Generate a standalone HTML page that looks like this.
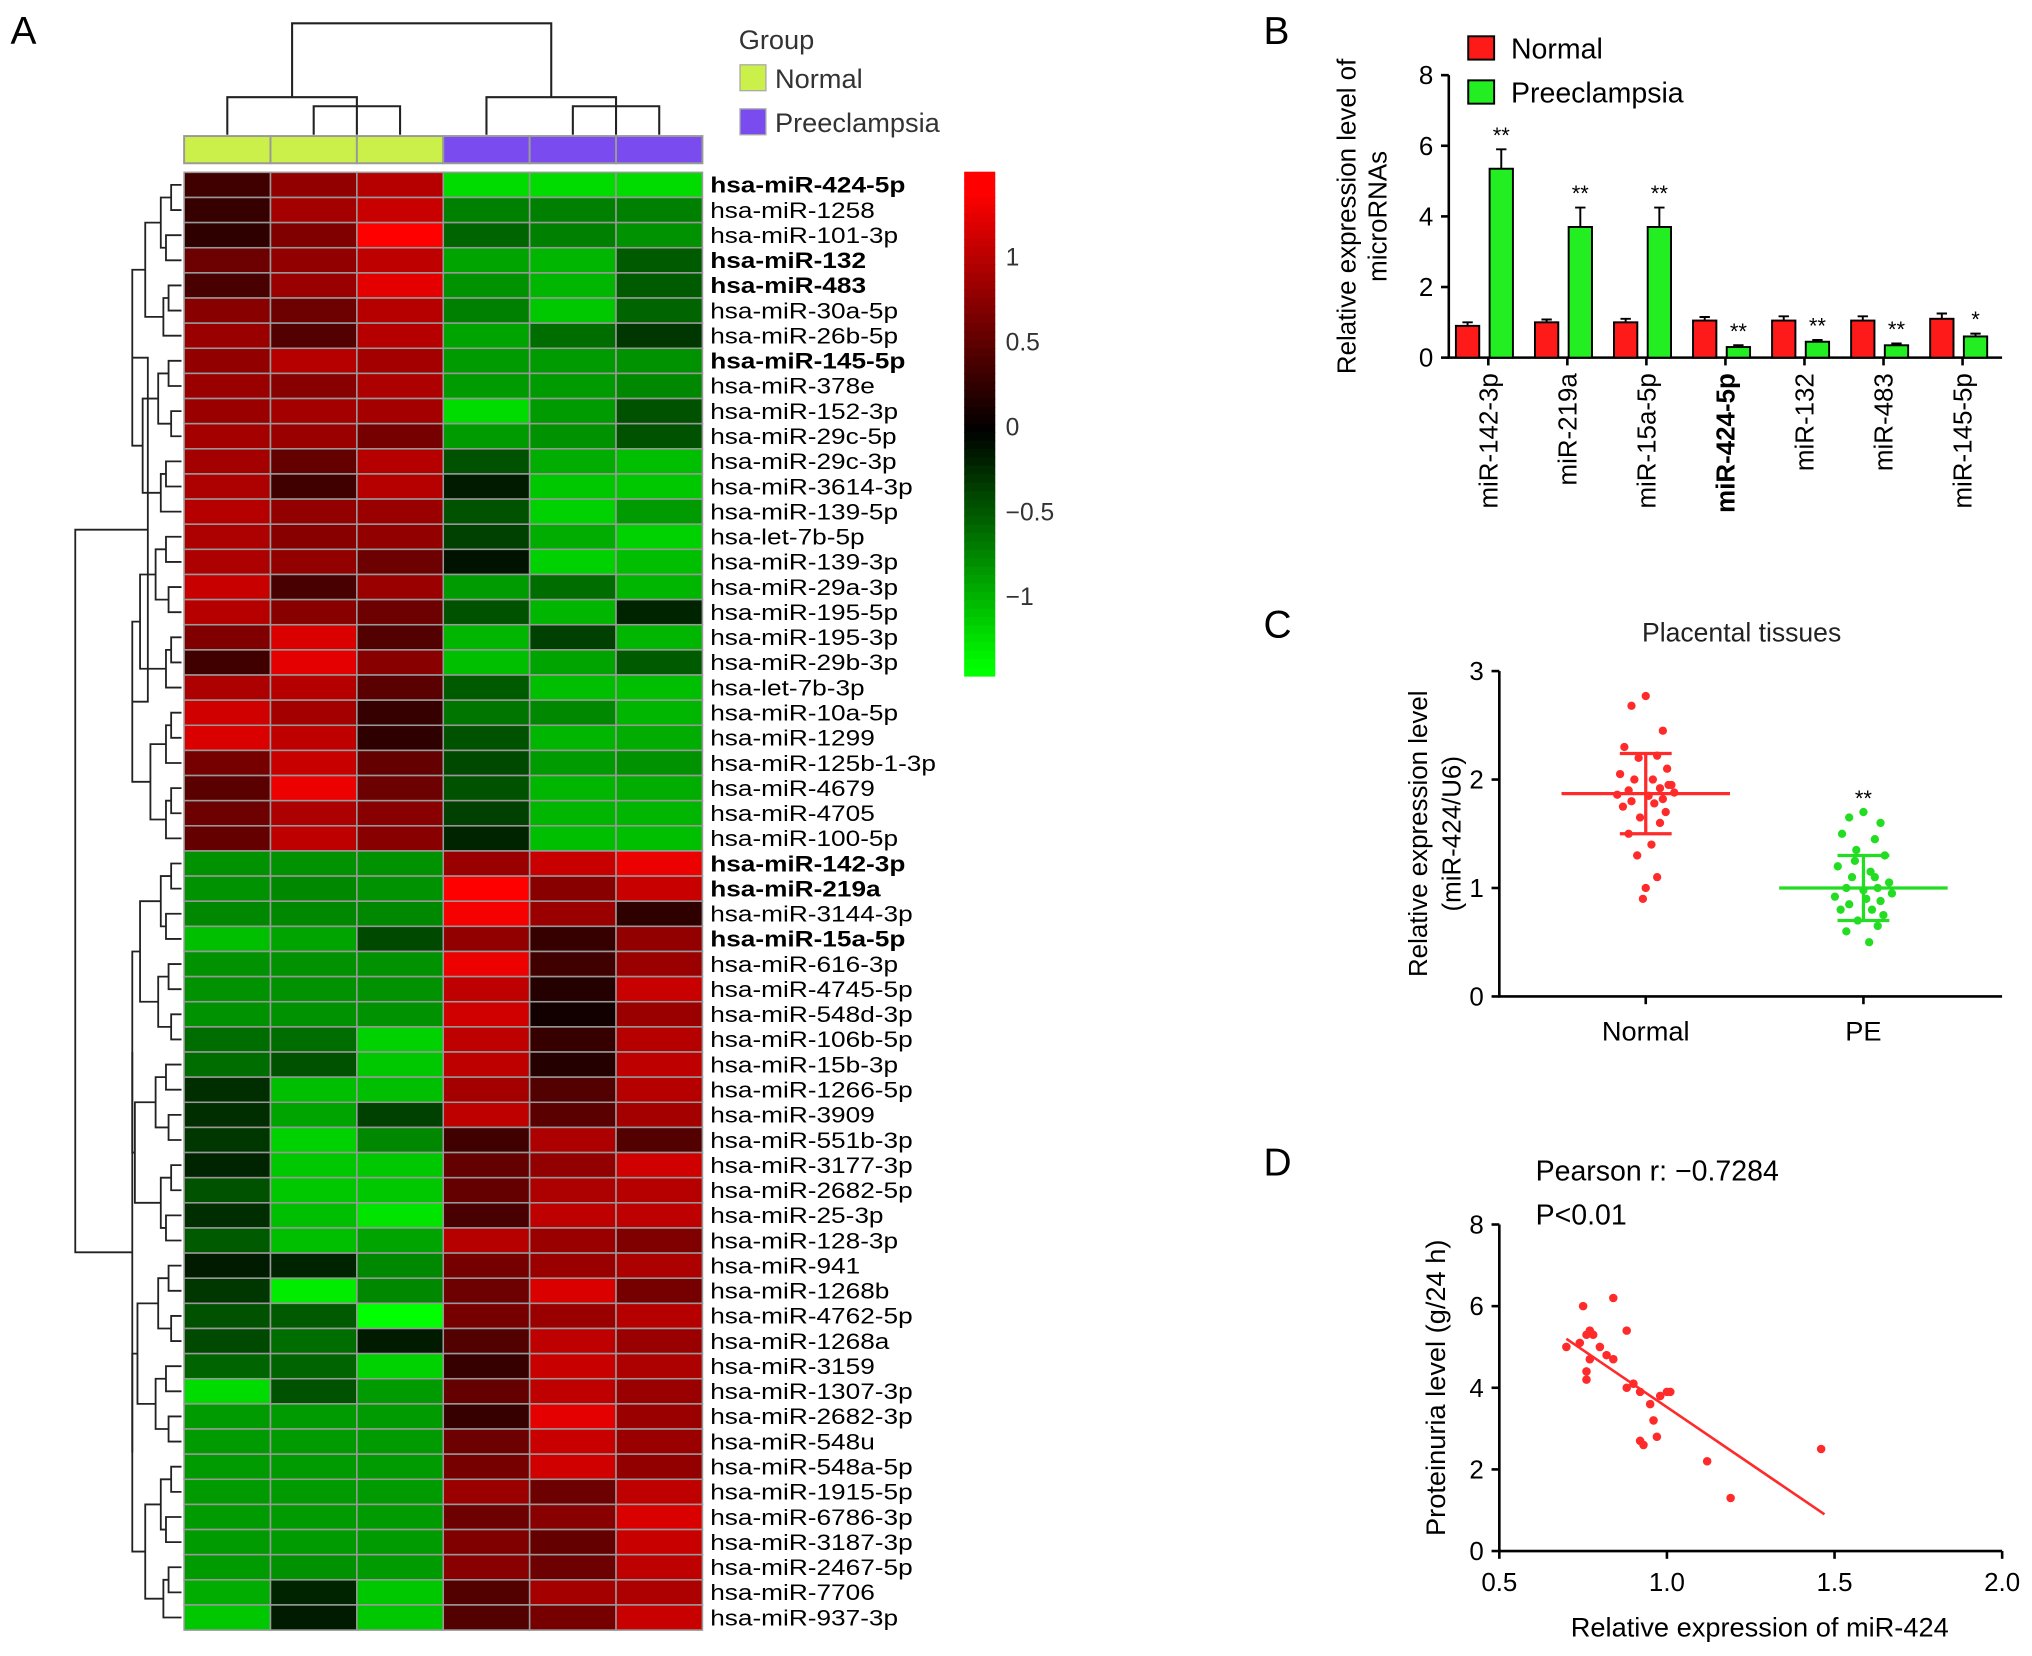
<!DOCTYPE html>
<html><head><meta charset="utf-8"><style>
html,body{margin:0;padding:0;background:#fff}
svg{display:block;font-family:"Liberation Sans",Arial,sans-serif}
</style></head><body>
<svg id="fig" width="2032" height="1656" viewBox="0 0 1568 1278" xmlns="http://www.w3.org/2000/svg">
<rect width="1568" height="1278" fill="#fff"/>
<g id="A"></g>
<g id="B"></g>
<g id="C"></g>
<g id="D"></g>
</svg>
<script>
const rowLabels=["hsa-miR-424-5p","hsa-miR-1258","hsa-miR-101-3p","hsa-miR-132","hsa-miR-483","hsa-miR-30a-5p","hsa-miR-26b-5p","hsa-miR-145-5p","hsa-miR-378e","hsa-miR-152-3p","hsa-miR-29c-5p","hsa-miR-29c-3p","hsa-miR-3614-3p","hsa-miR-139-5p","hsa-let-7b-5p","hsa-miR-139-3p","hsa-miR-29a-3p","hsa-miR-195-5p","hsa-miR-195-3p","hsa-miR-29b-3p","hsa-let-7b-3p","hsa-miR-10a-5p","hsa-miR-1299","hsa-miR-125b-1-3p","hsa-miR-4679","hsa-miR-4705","hsa-miR-100-5p","hsa-miR-142-3p","hsa-miR-219a","hsa-miR-3144-3p","hsa-miR-15a-5p","hsa-miR-616-3p","hsa-miR-4745-5p","hsa-miR-548d-3p","hsa-miR-106b-5p","hsa-miR-15b-3p","hsa-miR-1266-5p","hsa-miR-3909","hsa-miR-551b-3p","hsa-miR-3177-3p","hsa-miR-2682-5p","hsa-miR-25-3p","hsa-miR-128-3p","hsa-miR-941","hsa-miR-1268b","hsa-miR-4762-5p","hsa-miR-1268a","hsa-miR-3159","hsa-miR-1307-3p","hsa-miR-2682-3p","hsa-miR-548u","hsa-miR-548a-5p","hsa-miR-1915-5p","hsa-miR-6786-3p","hsa-miR-3187-3p","hsa-miR-2467-5p","hsa-miR-7706","hsa-miR-937-3p"];
const boldRows=["hsa-miR-424-5p","hsa-miR-132","hsa-miR-483","hsa-miR-145-5p","hsa-miR-142-3p","hsa-miR-219a","hsa-miR-15a-5p"];
const heatValues=[
[0.35,0.8,1.0,-1.2,-1.2,-1.2],[0.3,0.9,1.1,-0.7,-0.7,-0.7],[0.25,0.7,1.4,-0.55,-0.7,-0.8],[0.6,0.8,1.05,-0.9,-1.0,-0.5],[0.4,0.85,1.25,-0.8,-1.0,-0.5],[0.75,0.6,1.0,-0.7,-1.1,-0.55],[0.85,0.45,1.0,-0.9,-0.6,-0.3],[0.8,1.0,0.9,-0.85,-0.85,-0.8],[0.85,0.75,0.95,-0.85,-0.85,-0.75],[0.85,0.9,0.9,-1.2,-0.85,-0.45],[0.9,0.85,0.65,-0.85,-0.8,-0.45],[0.9,0.55,1.0,-0.45,-0.95,-1.05],[0.95,0.35,1.0,-0.15,-1.1,-1.1],[1.0,0.8,0.85,-0.45,-1.15,-0.85],[0.95,0.75,0.8,-0.35,-0.95,-1.15],[0.95,0.8,0.6,-0.1,-1.15,-1.05],[1.1,0.4,0.85,-0.85,-0.6,-1.0],[1.0,0.75,0.6,-0.45,-1.0,-0.2],[0.7,1.2,0.45,-1.0,-0.35,-1.0],[0.35,1.25,0.75,-1.05,-0.9,-0.5],[0.95,1.0,0.5,-0.5,-1.05,-1.05],[1.15,0.9,0.3,-0.65,-0.75,-1.0],[1.2,1.05,0.25,-0.45,-1.0,-0.95],[0.65,1.1,0.55,-0.4,-0.85,-0.8],[0.5,1.3,0.6,-0.45,-1.0,-0.95],[0.6,0.95,0.75,-0.35,-1.0,-1.0],[0.55,1.05,0.75,-0.2,-1.05,-1.05],
[-0.8,-0.8,-0.8,0.85,1.1,1.3],[-0.8,-0.75,-0.8,1.4,0.75,1.1],[-0.75,-0.75,-0.75,1.35,0.85,0.25],[-1.05,-0.9,-0.4,0.8,0.3,0.8],[-0.8,-0.8,-0.8,1.3,0.35,0.85],[-0.8,-0.8,-0.8,1.05,0.2,1.1],[-0.8,-0.8,-0.8,1.15,0.1,0.85],[-0.6,-0.6,-1.15,1.05,0.3,1.0],[-0.6,-0.45,-1.1,1.05,0.2,1.05],[-0.25,-1.05,-1.05,0.9,0.45,1.0],[-0.25,-0.9,-0.35,1.05,0.5,0.9],[-0.3,-1.15,-0.75,0.35,0.95,0.45],[-0.2,-1.1,-1.1,0.55,0.8,1.15],[-0.45,-1.1,-1.1,0.55,0.95,1.0],[-0.25,-1.05,-1.25,0.4,1.05,1.05],[-0.5,-1.05,-0.9,1.0,0.85,0.7],[-0.15,-0.2,-0.75,0.65,0.85,0.95],[-0.3,-1.3,-0.75,0.6,1.2,0.65],[-0.45,-0.5,-1.4,0.65,0.85,1.0],[-0.4,-0.6,-0.15,0.45,1.05,0.85],[-0.55,-0.55,-1.15,0.3,1.1,0.95],[-1.2,-0.45,-0.85,0.55,1.05,0.85],[-0.85,-0.85,-0.85,0.3,1.25,0.85],[-0.85,-0.85,-0.85,0.6,1.1,0.85],[-0.85,-0.85,-0.85,0.65,1.15,0.8],[-0.85,-0.85,-0.85,0.85,0.6,1.05],[-0.85,-0.85,-0.85,0.6,0.75,1.2],[-0.85,-0.85,-0.85,0.7,0.55,1.1],[-0.85,-0.8,-0.85,0.75,0.6,1.05],[-0.95,-0.2,-1.1,0.45,0.9,0.95],[-1.1,-0.15,-1.1,0.45,0.65,1.1]];
const sampleGroups=["Normal","Normal","Normal","Preeclampsia","Preeclampsia","Preeclampsia"];
const scaleTicks=[1,0.5,0,-0.5,-1];
const scaleTickLabels=["1","0.5","0","\u22120.5","\u22121"];

const bCategories=["miR-142-3p","miR-219a","miR-15a-5p","miR-424-5p","miR-132","miR-483","miR-145-5p"];
const bNormal=[0.9,1.0,1.0,1.05,1.05,1.05,1.1];
const bNormalErr=[0.1,0.08,0.1,0.1,0.12,0.12,0.15];
const bPE=[5.35,3.7,3.7,0.3,0.45,0.35,0.6];
const bPEErr=[0.55,0.55,0.55,0.05,0.05,0.05,0.08];
const bStars=["**","**","**","**","**","**","*"];
const bTicks=[0,2,4,6,8];

const cNormal=[2.77,2.68,2.45,2.3,2.22,2.2,2.1,2.05,2.0,2.0,1.95,1.92,1.9,1.88,1.86,1.85,1.82,1.8,1.78,1.75,1.7,1.65,1.6,1.5,1.4,1.3,1.1,1.0,0.9,1.95];
const cPE=[1.7,1.65,1.6,1.5,1.45,1.35,1.3,1.2,1.15,1.1,1.05,1.0,1.0,0.95,0.92,0.9,0.88,0.85,0.8,0.8,0.75,0.7,0.65,0.6,0.5,1.25,1.1,0.98];
const cJitter=[0,-0.1,0.12,-0.15,0.08,-0.05,0.15,-0.18,0.05,-0.08,0.18,0.1,-0.12,0.2,-0.2,0.02,0.12,-0.1,0.06,-0.16,0.14,-0.04,0.1,-0.12,0.04,-0.06,0.08,0,-0.02,0.16];
const cMean=[1.87,1.0];
const cSD=[0.37,0.3];
const cTicks=[0,1,2,3];

const dX=[0.70,0.75,0.76,0.77,0.78,0.77,0.76,0.76,0.80,0.82,0.84,0.84,0.88,0.90,0.92,0.93,0.92,0.95,0.96,0.97,0.98,1.0,1.01,1.12,1.19,1.46,0.88,0.74];
const dY=[5.0,6.0,5.3,5.4,5.3,4.7,4.4,4.2,5.0,4.8,4.7,6.2,5.4,4.1,3.9,2.6,2.7,3.6,3.2,2.8,3.8,3.9,3.9,2.2,1.3,2.5,4.0,5.1];
const dFitX=[0.7,1.47];
const dFitY=[5.2,0.9];
const dXTicks=[0.5,1.0,1.5,2.0];
const dYTicks=[0,2,4,6,8];

const NS="http://www.w3.org/2000/svg";
function mk(parent,tag,attrs,text){const e=document.createElementNS(NS,tag);for(const k in attrs)e.setAttribute(k,attrs[k]);if(text!==undefined)e.textContent=String(text);parent.appendChild(e);return e;}
function heatColor(v){const t=Math.min(1,Math.abs(v)/1.4);const c=Math.round(255*t);return v>=0?`rgb(${c},0,0)`:`rgb(0,${c},0)`;}

// ---------- Panel A ----------
const A=document.getElementById('A');
let t=mk(A,'text',{x:8,y:34,'font-size':30},'A');


const hx0=142,hx1=542,hy0=133,hy1=1258;
const cw=(hx1-hx0)/6,rh=(hy1-hy0)/rowLabels.length;
sampleGroups.forEach((g,i)=>{const r=mk(A,'rect',{x:hx0+i*cw,y:105,width:cw,height:21,fill:g==='Normal'?'#ccf04a':'#7a4cf0',stroke:'#999','stroke-width':1.5});

});
heatValues.forEach((row,ri)=>{row.forEach((v,ci)=>{const r=mk(A,'rect',{x:hx0+ci*cw,y:hy0+ri*rh,width:cw,height:rh,fill:heatColor(v),stroke:'#999','stroke-width':1.2});

});
const lb=mk(A,'text',{x:0,y:0,transform:`translate(548,${hy0+ri*rh+rh/2+6}) scale(1.19,1)`,'font-size':17,'font-weight':boldRows.includes(rowLabels[ri])?'bold':'normal'},rowLabels[ri]);

});
const dg=mk(A,'g',{stroke:'#222','stroke-width':1.6,fill:'none'});


const cc=i=>hx0+cw*(i+0.5);
const pth=(d)=>mk(dg,'path',{d});
pth(`M${cc(0)} 104 V75 H${(cc(1)+cc(2))/2} V104`);
pth(`M${cc(1)} 104 V82 H${cc(2)} V104`);
pth(`M${cc(3)} 104 V75 H${(cc(4)+cc(5))/2} V104`);
pth(`M${cc(4)} 104 V82 H${cc(5)} V104`);
pth(`M${(cc(0)+(cc(1)+cc(2))/2)/2} 75 V18 H${(cc(3)+(cc(4)+cc(5))/2)/2} V75`);
const rd=mk(A,'g',{stroke:'#222','stroke-width':1.4,fill:'none'});


function tree(a,b,x){
 if(a===b)return [hy0+a*rh+rh/2,140];
 const m=Math.floor((a+b)/2);
 const n=b-a+1;
 const cx=n>20?x:Math.max(102,140-n*4-(a%3)*2);
 const L=tree(a,m,cx+8),R=tree(m+1,b,cx+8);
 mk(rd,'path',{d:`M${L[1]} ${L[0]} H${cx} V${R[0]} H${R[1]}`});
 return [(L[0]+R[0])/2,cx];
}
const treeTop=tree(0,26,114),treeBot=tree(27,57,102);
mk(rd,'path',{d:`M${treeTop[1]} ${treeTop[0]} H58 V${treeBot[0]} H${treeBot[1]}`});
t=mk(A,'text',{x:570,y:38,'font-size':21,fill:'#333'},'Group');


[['Normal','#ccf04a',50],['Preeclampsia','#7a4cf0',84]].forEach(([n,c,y])=>{
 const r=mk(A,'rect',{x:571,y:y,width:20,height:20,fill:c,stroke:'#aaa'});
 
 
 const tx=mk(A,'text',{x:598,y:y+18,'font-size':21,fill:'#333'},n);
 
 });
const sy=v=>329-v*131;
for(let i=0;i<60;i++){const v=1.5-i*(2.97/60);const r=mk(A,'rect',{x:744,y:sy(v),width:24,height:2.97*131/60+0.6,fill:heatColor(v)});

}
scaleTicks.forEach((v,i)=>{const tx=mk(A,'text',{x:776,y:sy(v)+7,'font-size':19,fill:'#333'},scaleTickLabels[i]);

});

// ---------- Panel B ----------
const B=document.getElementById('B');
t=mk(B,'text',{x:975,y:34,'font-size':30},'B');


const bx0=1118,bx1=1545,byb=276,byScale=27.25;
const by=v=>byb-v*byScale;
const gw=(bx1-bx0)/bCategories.length;
mk(B,'path',{d:`M${bx0} ${by(8)} V${byb} H${bx1}`,stroke:'#000','stroke-width':2,fill:'none'});
bTicks.forEach(v=>{mk(B,'line',{x1:bx0-6,x2:bx0,y1:by(v),y2:by(v),stroke:'#000','stroke-width':2});
const tx=mk(B,'text',{x:bx0-12,y:by(v)+7,'font-size':20,'text-anchor':'end'},v);

});
t=mk(B,'text',{transform:`translate(1046,${by(4)}) rotate(-90)`,'font-size':20,'text-anchor':'middle'});


mk(t,'tspan',{x:0,dy:0},'Relative expression level of');mk(t,'tspan',{x:0,dy:24},'microRNAs');
bCategories.forEach((c,i)=>{
 const cx=bx0+gw*(i+0.5);
 [[bNormal[i],bNormalErr[i],'#ff1a1a',cx-25],[bPE[i],bPEErr[i],'#22ee22',cx+1]].forEach(([v,e,col,x],k)=>{
  const r=mk(B,'rect',{x:x,y:by(v),width:18,height:by(0)-by(v),fill:col,stroke:'#000','stroke-width':1.5});
  
  
  mk(B,'path',{d:`M${x+9} ${by(v)} V${by(v+e)} M${x+5} ${by(v+e)} H${x+13}`,stroke:'#000','stroke-width':1.5});
 });
 const st=mk(B,'text',{x:cx+10,y:by(bPE[i]+bPEErr[i])-5,'font-size':17,'text-anchor':'middle'},bStars[i]);
 
 
 mk(B,'line',{x1:cx,x2:cx,y1:byb,y2:byb+6,stroke:'#000','stroke-width':2});
 const lb=mk(B,'text',{transform:`translate(${cx+7},${byb+12}) rotate(-90)`,'font-size':20,'text-anchor':'end','font-weight':c==='miR-424-5p'?'bold':'normal'},c);
 
 
});
[['Normal','#ff1a1a',28],['Preeclampsia','#22ee22',62]].forEach(([n,c,y])=>{
 const r=mk(B,'rect',{x:1133,y:y,width:20,height:18,fill:c,stroke:'#000','stroke-width':1.5});
 
 
 const tx=mk(B,'text',{x:1166,y:y+17,'font-size':22},n);
 
 });

// ---------- Panel C ----------
const C=document.getElementById('C');
t=mk(C,'text',{x:975,y:492,'font-size':30},'C');


const cx0=1157,cx1=1545,cyb=769,cys=83.7;
const cy=v=>cyb-v*cys;
const cpos=[1270,1438];
t=mk(C,'text',{x:1344,y:495,'font-size':20.5,'text-anchor':'middle',fill:'#222'},'Placental tissues');


mk(C,'path',{d:`M${cx0} ${cy(3)} V${cyb} H${cx1}`,stroke:'#000','stroke-width':2,fill:'none'});
cTicks.forEach(v=>{mk(C,'line',{x1:cx0-6,x2:cx0,y1:cy(v),y2:cy(v),stroke:'#000','stroke-width':2});
const tx=mk(C,'text',{x:cx0-12,y:cy(v)+7,'font-size':20,'text-anchor':'end'},v);

});
t=mk(C,'text',{transform:`translate(1101,${cy(1.5)}) rotate(-90)`,'font-size':20,'text-anchor':'middle'});


mk(t,'tspan',{x:0,dy:0},'Relative expression level');mk(t,'tspan',{x:0,dy:26},'(miR-424/U6)');
[['Normal',cNormal,'#ff2a2a'],['PE',cPE,'#22dd22']].forEach(([n,vals,col],g)=>{
 const x=cpos[g];
 mk(C,'line',{x1:x,x2:x,y1:cyb,y2:cyb+6,stroke:'#000','stroke-width':2});
 const tx=mk(C,'text',{x:x,y:cyb+34,'font-size':21,'text-anchor':'middle'},n);
 
 
 vals.forEach((v,i)=>{const c=mk(C,'circle',{cx:x+cJitter[i%cJitter.length]*110,cy:cy(v),r:3.2,fill:col});
 
 });
 const m=mk(C,'line',{x1:x-65,x2:x+65,y1:cy(cMean[g]),y2:cy(cMean[g]),stroke:col,'stroke-width':2.5});
 
 
 mk(C,'path',{d:`M${x} ${cy(cMean[g]-cSD[g])} V${cy(cMean[g]+cSD[g])} M${x-20} ${cy(cMean[g]-cSD[g])} H${x+20} M${x-20} ${cy(cMean[g]+cSD[g])} H${x+20}`,stroke:col,'stroke-width':2.5,fill:'none'});
});
t=mk(C,'text',{x:cpos[1],y:cy(cMean[1]+cSD[1])-38,'font-size':17,'text-anchor':'middle'},'**');



// ---------- Panel D ----------
const D=document.getElementById('D');
t=mk(D,'text',{x:975,y:907,'font-size':30},'D');


const dxf=v=>1157+(v-0.5)*258.7, dyf=v=>1197-v*31.5;
mk(D,'path',{d:`M${dxf(0.5)} ${dyf(8)} V${dyf(0)} H${dxf(2.0)}`,stroke:'#000','stroke-width':2,fill:'none'});
dYTicks.forEach(v=>{mk(D,'line',{x1:dxf(0.5)-6,x2:dxf(0.5),y1:dyf(v),y2:dyf(v),stroke:'#000','stroke-width':2});
const tx=mk(D,'text',{x:dxf(0.5)-12,y:dyf(v)+7,'font-size':20,'text-anchor':'end'},v);

});
dXTicks.forEach(v=>{mk(D,'line',{x1:dxf(v),x2:dxf(v),y1:dyf(0),y2:dyf(0)+6,stroke:'#000','stroke-width':2});
const tx=mk(D,'text',{x:dxf(v),y:dyf(0)+31,'font-size':20,'text-anchor':'middle'},v.toFixed(1));

});
t=mk(D,'text',{x:1358,y:1263,'font-size':21,'text-anchor':'middle'},'Relative expression of miR-424');


t=mk(D,'text',{transform:`translate(1115,${dyf(4)}) rotate(-90)`,'font-size':21,'text-anchor':'middle'},'Proteinuria level (g/24 h)');


t=mk(D,'text',{x:1185,y:911,'font-size':22},'Pearson r: \u22120.7284');


t=mk(D,'text',{x:1185,y:945,'font-size':22},'P<0.01');


dX.forEach((v,i)=>{const c=mk(D,'circle',{cx:dxf(v),cy:dyf(dY[i]),r:3.3,fill:'#ff2a2a'});

});
t=mk(D,'line',{x1:dxf(dFitX[0]),y1:dyf(dFitY[0]),x2:dxf(dFitX[1]),y2:dyf(dFitY[1]),stroke:'#ff2a2a','stroke-width':2});


</script>
</body></html>
